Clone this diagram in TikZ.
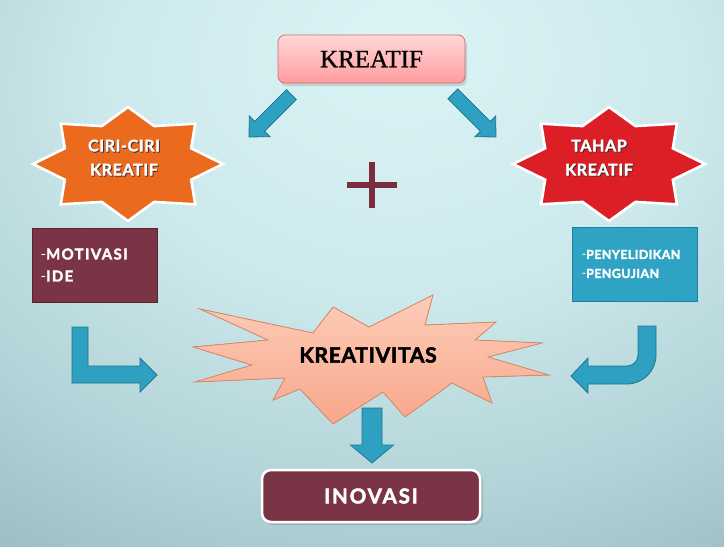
\documentclass[tikz,border=0pt]{standalone}
\usepackage{fontspec}
\setmainfont{Liberation Serif}
\newfontfamily\gill[BoldFeatures={FakeBold=2.2}]{Lato}
\newfontfamily\titlefont[FakeBold=0.9]{Liberation Serif}
\usetikzlibrary{calc}

\definecolor{bgA}{HTML}{DCF4F6}
\definecolor{bgB}{HTML}{CDE9EC}
\definecolor{bgC}{HTML}{B3D4D8}
\definecolor{bgD}{HTML}{96B8BD}
\definecolor{bgE}{HTML}{87AAB0}
\definecolor{bgF}{HTML}{7E9FA5}
\definecolor{bgG}{HTML}{7596A0}
\definecolor{arrowblue}{HTML}{2EA0C2}
\definecolor{arrowedge}{HTML}{1D7690}
\definecolor{wine}{HTML}{7B3446}
\definecolor{wineedge}{HTML}{5A2130}
\definecolor{plusred}{HTML}{7A2D3D}
\definecolor{pinkT}{HTML}{FFD8D8}
\definecolor{pinkB}{HTML}{FF9C9E}
\definecolor{pinkedge}{HTML}{D56A75}
\definecolor{starorange}{HTML}{EB6A1E}
\definecolor{starred}{HTML}{DC1F26}
\definecolor{burstT}{HTML}{FDCDB9}
\definecolor{burstB}{HTML}{F8A78B}
\definecolor{burstedge}{HTML}{D88A68}
\definecolor{cyanbox}{HTML}{2FA3C4}
\definecolor{cyanedge}{HTML}{1F809C}
\definecolor{starink}{HTML}{3A2626}

% soft slide background, brightest a little above the middle
\pgfdeclareradialshading{slidebg}{\pgfpoint{3bp}{22bp}}{%
  color(0bp)=(bgA); color(20bp)=(bgB); color(35bp)=(bgC); color(50bp)=(bgD);
  color(60bp)=(bgE); color(75bp)=(bgF); color(90bp)=(bgG); color(110bp)=(bgG)}

% white letters with a dark offset edge
\newcommand\edged[1]{\leavevmode\rlap{\kern0.9pt\raisebox{-0.9pt}{\textcolor{starink}{#1}}}#1}
\newcommand\itemdash{{\mdseries -}}

% block arrow: tip, direction, length, shaft half width, head half width, head length
\newcommand\blockarrow[6]{%
  \filldraw[arrowbody, shift={(#1)}, rotate=#2]
    (0,0) -- (-#6,#5) -- (-#6,#4) -- (-#3,#4) -- (-#3,-#4) -- (-#6,-#4) -- (-#6,-#5) -- cycle;}

\begin{document}
\begin{tikzpicture}[x=1pt,y=-1pt,
  arrowbody/.style={fill=arrowblue, draw=arrowedge, line width=0.8pt, line join=miter},
  plusbar/.style={draw=plusred, line width=6.5pt},
  starshape/.style={draw=white, line width=2.6pt, line join=miter},
  startext/.style={text=white, align=center, font=\gill\bfseries\fontsize{16}{24}\selectfont\addfontfeature{LetterSpace=4}},
  listbox/.style={minimum height=74, inner xsep=8.5, align=left, text=white, line width=0.8pt},
  titlebox/.style={rounded corners=7, top color=pinkT, bottom color=pinkB, draw=pinkedge,
    line width=0.8pt, minimum width=187, minimum height=48, font=\titlefont\fontsize{25}{25}\selectfont},
  burst/.style={top color=burstT, bottom color=burstB, draw=burstedge, line width=0.8pt, line join=miter},
  endbox/.style={rounded corners=9, fill=wine, draw=white, line width=2.5pt, minimum width=218,
    minimum height=52, text=white, font=\gill\bfseries\fontsize{20.5}{20.5}\selectfont\addfontfeature{LetterSpace=9}},
  softshadow/.style={fill=black, opacity=0.12}]

\useasboundingbox (0,0) rectangle (724,547);
\shade[shading=slidebg] (0,0) rectangle (724,547);

% title
\fill[softshadow, rounded corners=7] (280,39) rectangle (467,86);
\node[titlebox] (kreatif) at (371.5,59) {KREATIF};

% arrows leaving the title
\coordinate (tipL) at (249,137);
\coordinate (tipR) at (496,137);
\blockarrow{tipL}{225}{60}{7}{14.5}{15}
\blockarrow{tipR}{315}{61}{7}{14.5}{15}

% plus sign
\coordinate (plus) at (372,185);
\draw[plusbar] ($(plus)+(-25,0)$) -- ($(plus)+(25,0)$);
\draw[plusbar] ($(plus)+(0,-23)$) -- ($(plus)+(0,23)$);

% eight-pointed stars
\begin{scope}[shift={(128,164)}, xscale=95, yscale=57]
  \filldraw[starshape, fill=starorange] (0:1)
    \foreach \k in {1,...,15}{ -- ({\k*22.5}:{mod(\k,2)==1 ? 0.72 : 1}) } -- cycle;
\end{scope}
\begin{scope}[shift={(609,164)}, xscale=96, yscale=57]
  \filldraw[starshape, fill=starred] (0:1)
    \foreach \k in {1,...,15}{ -- ({\k*22.5}:{mod(\k,2)==1 ? 0.72 : 1}) } -- cycle;
\end{scope}
\node[startext] (ciri) at (124,158) {\edged{CIRI-CIRI}\\\edged{KREATIF}};
\node[startext] (tahap) at (599,158) {\edged{TAHAP}\\\edged{KREATIF}};

% lists under the stars
\node[listbox, fill=wine, draw=wineedge, text width=108,
  font=\gill\bfseries\fontsize{15}{22}\selectfont\addfontfeature{LetterSpace=9}]
  (motivasi) at (94.5,265) {\itemdash MOTIVASI\\\itemdash IDE};
\node[listbox, fill=cyanbox, draw=cyanedge, text width=106, inner xsep=9.5,
  font=\gill\bfseries\fontsize{12.5}{19}\selectfont\addfontfeature{LetterSpace=3}]
  (penyelidikan) at (634.5,264) {\itemdash PENYELIDIKAN\\\itemdash PENGUJIAN};

% bent arrow on the left
\filldraw[arrowbody] (72,327) -- (88,327) -- (88,366) -- (140,366) -- (140,358) -- (157,375)
  -- (140,392) -- (140,383) -- (72,383) -- cycle;
% hooked arrow on the right
\filldraw[arrowbody] (638,326) -- (656,326) -- (656,355) arc (0:90:29) -- (588,384) -- (588,393)
  -- (571,376) -- (588,358) -- (588,366) -- (627,366) arc (90:0:11) -- cycle;

% arrow down to the result
\coordinate (tipD) at (372,463);
\blockarrow{tipD}{270}{55}{10}{21.5}{18}

% burst
\filldraw[burst] (200,309) -- (313,333) -- (333,307) -- (369,327) -- (433,295) -- (425,325)
  -- (496,322) -- (475,340) -- (542,343) -- (488,357) -- (549,375) -- (483,377) -- (492,403)
  -- (452,383) -- (405,417) -- (383,392) -- (333,424) -- (300,389) -- (273,400) -- (285,378)
  -- (195,382) -- (252,365) -- (193,347) -- (268,340) -- cycle;
\node[font=\gill\bfseries\fontsize{21}{21}\selectfont\addfontfeature{LetterSpace=3.5}]
  (kreativitas) at (368,355) {KREATIVITAS};

% result
\fill[softshadow, rounded corners=9] (264,473) rectangle (483,525);
\node[endbox] (inovasi) at (371,496) {INOVASI};

\end{tikzpicture}
\end{document}
